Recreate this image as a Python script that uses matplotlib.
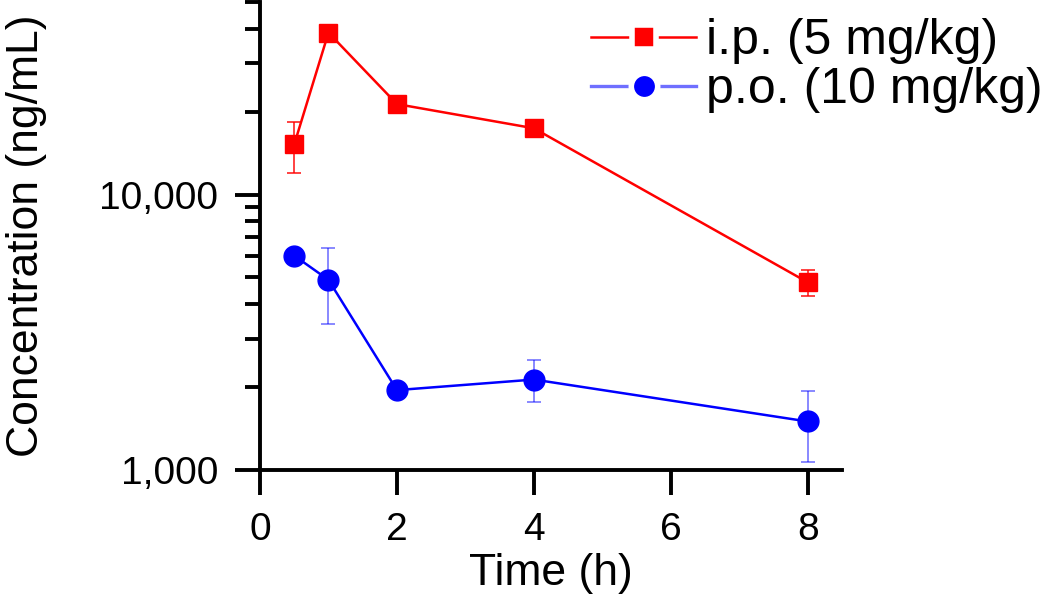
import numpy as np
import matplotlib
import matplotlib.pyplot as plt
from matplotlib.lines import Line2D
from matplotlib.ticker import FixedLocator, LogLocator, NullFormatter

matplotlib.use("Agg")

plt.rcParams["font.family"] = ["Liberation Sans", "DejaVu Sans"]

# Sampling times (h)
time_ip = [0.5, 1, 2, 4, 8]
time_po = [0.5, 1, 2, 4, 8]

# Mean concentration (ng/mL) and error
conc_ip = [15200, 38700, 21300, 17400, 4800]
err_ip = [3200, 0, 0, 0, 500]
conc_po = [6000, 4900, 1950, 2130, 1500]
err_po = [0, 1500, 0, 370, 430]

labels = ["i.p. (5 mg/kg)", "p.o. (10 mg/kg)"]
y_ticks = [1000, 10000]
y_tick_labels = ["1,000", "10,000"]
x_ticks = [0, 2, 4, 6, 8]

RED = "#ff0000"
BLUE = "#0000ff"

fig = plt.figure(figsize=(10.5, 6), dpi=100)
ax = fig.add_axes([260 / 1050, 1 - 470 / 600, (842 - 260) / 1050, (470 - 2) / 600])

# i.p. series
ax.errorbar(time_ip, conc_ip, yerr=err_ip, fmt="none", ecolor=RED, elinewidth=1.3,
            capsize=5, capthick=1.3, alpha=0.8, zorder=2)
ax.plot(time_ip, conc_ip, color=RED, lw=1.8, marker="s", ms=13, mec=RED, zorder=3)

# p.o. series
ax.errorbar(time_po, conc_po, yerr=err_po, fmt="none", ecolor=BLUE, elinewidth=1.3,
            capsize=5, capthick=1.3, alpha=0.5, zorder=2)
ax.plot(time_po, conc_po, color=BLUE, lw=1.8, marker="o", ms=15, mec=BLUE, zorder=3)

ax.set_yscale("log")
ax.set_ylim(1000, 50000)
ax.set_xlim(0, 8.5)

ax.yaxis.set_major_locator(FixedLocator(y_ticks))
ax.set_yticklabels(y_tick_labels)
ax.yaxis.set_minor_locator(LogLocator(base=10, subs=np.arange(2, 10)))
ax.yaxis.set_minor_formatter(NullFormatter())
ax.set_xticks(x_ticks)

for side in ["top", "right"]:
    ax.spines[side].set_visible(False)
for side in ["left", "bottom"]:
    ax.spines[side].set_linewidth(2.8)

ax.tick_params(axis="both", which="major", direction="out", length=18, width=2.8,
               labelsize=28, pad=12)
ax.tick_params(axis="y", which="minor", direction="out", length=11, width=2.8)

ax.set_xlabel("Time (h)", fontsize=32, labelpad=4)
ax.set_ylabel("Concentration (ng/mL)", fontsize=32, labelpad=38)

# Legend proxies with gaps around the marker, Origin style
handles = [
    Line2D([], [], color=RED, lw=1.8, marker="s", ms=17, mfc=RED, mec="white", mew=4),
    Line2D([], [], color="#6f6fff", lw=2.4, marker="o", ms=19, mfc=BLUE, mec="white", mew=4),
]
fig.legend(handles, labels, loc="upper right", bbox_to_anchor=(1.022, 1.02),
           frameon=False, fontsize=36, handlelength=2.1, handletextpad=0.2,
           labelspacing=0.06, borderaxespad=0.2)

fig.savefig("out.png", dpi=100)
